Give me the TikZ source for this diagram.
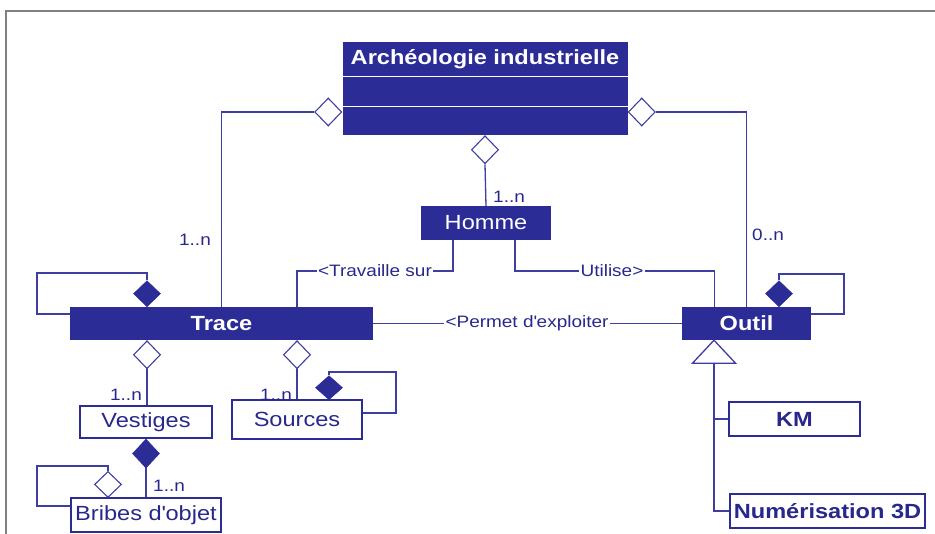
\documentclass[tikz,border=0pt]{standalone}
\usepackage{fontspec}
\setmainfont{Liberation Sans}[FakeStretch=1.15]
\usetikzlibrary{shapes.geometric}
\definecolor{umlblue}{RGB}{44,44,150}
\definecolor{linkblue}{RGB}{62,62,162}
\definecolor{textblue}{RGB}{40,40,140}
\definecolor{framegray}{RGB}{128,128,128}
\tikzset{
  classfill/.style={rectangle, fill=umlblue, text=white, inner sep=0pt,
    font=\fontsize{20.5}{24}\selectfont},
  classwhite/.style={rectangle, draw=umlblue, line width=1.5pt, fill=white,
    text=textblue, inner sep=0pt, font=\fontsize{20.5}{24}\selectfont},
  link/.style={draw=linkblue, line width=1.3pt},
  hollowdia/.style={diamond, draw=linkblue, line width=1.1pt, fill=white,
    minimum width=27pt, minimum height=28pt, inner sep=0pt},
  filldia/.style={diamond, draw=umlblue, fill=umlblue, line width=0.6pt,
    minimum width=27pt, minimum height=26pt, inner sep=0pt},
  rolelabel/.style={text=textblue, font=\fontsize{16.5}{19}\selectfont, inner sep=0pt},
  linklabel/.style={text=textblue, fill=white, font=\fontsize{16.5}{19}\selectfont,
    inner xsep=1.5pt, inner ysep=1pt},
}
\begin{document}
\begin{tikzpicture}[x=1pt, y=-1pt]
  \useasboundingbox (0,0) rectangle (935,534);
  \fill[white] (0,0) rectangle (935,534);
  % outer frame
  \draw[framegray, line width=2pt] (6,534) -- (6,11) -- (935,11);

  % main class with its three compartments
  \node[classfill, minimum width=285pt, minimum height=93pt] (arch) at (485,88.5) {};
  \draw[white, line width=0.9pt] (342.5,76) -- (627.5,76) (342.5,106) -- (627.5,106);
  \node[text=white, font=\bfseries\fontsize{20.5}{24}\selectfont] (archtitle) at (485,59) {Archéologie industrielle};

  % classes
  \node[classfill, minimum width=130pt, minimum height=34pt] (homme) at (486,223) {Homme};
  \node[classfill, minimum width=303pt, minimum height=33pt, font=\bfseries\fontsize{20.5}{24}\selectfont] (trace) at (221.5,323.5) {Trace};
  \node[classfill, minimum width=129pt, minimum height=33pt, font=\bfseries\fontsize{20.5}{24}\selectfont] (outil) at (746.5,323.5) {Outil};
  \node[classwhite, minimum width=132pt, minimum height=32pt] (vestiges) at (146,422) {Vestiges};
  \node[classwhite, minimum width=130pt, minimum height=39pt] (sources) at (297,419.5) {Sources};
  \node[classwhite, minimum width=150pt, minimum height=34pt] (bribes) at (146,515) {Bribes d\textquotesingle objet};
  \node[classwhite, minimum width=131pt, minimum height=34pt, font=\bfseries\fontsize{20.5}{24}\selectfont] (km) at (794.5,419) {KM};
  \node[classwhite, minimum width=195pt, minimum height=34pt, font=\bfseries\fontsize{20.5}{24}\selectfont] (num) at (827.5,511) {Numérisation 3D};

  % aggregations of the main class
  \node[hollowdia, anchor=east] (dleft) at (arch.west |- 0,112) {};
  \node[hollowdia, anchor=west] (dright) at (arch.east |- 0,112) {};
  \node[hollowdia, anchor=north] (dbottom) at (arch.south) {};
  \draw[link] (dleft.west) -| (trace.north);
  \draw[link] (dright.east) -| (outil.north);
  \draw[link] (dbottom.south) -- (homme.north);
  \node[rolelabel, anchor=west] (mhomme) at (493,197) {1..n};
  \node[rolelabel, anchor=east] (mtrace) at (211,240) {1..n};
  \node[rolelabel, anchor=west] (moutil) at (752,235) {0..n};

  % associations
  \coordinate (htl) at ([xshift=-33pt]homme.south);
  \coordinate (htr) at ([xshift=29pt]homme.south);
  \coordinate (ttop) at ([xshift=75.5pt]trace.north);
  \coordinate (otop) at ([xshift=-32pt]outil.north);
  \draw[link] (htl) -- (htl |- 0,271) -| (ttop);
  \node[linklabel] (trav) at (375,271) {<Travaille sur};
  \draw[link] (htr) -- (htr |- 0,271) -| (otop);
  \node[linklabel] (util) at (612,271) {Utilise>};
  \draw[link] (trace.east) -- (outil.west);
  \node[linklabel] (perm) at (527,323.5) {<Permet d\textquotesingle exploiter};

  % self compositions of Trace and Outil
  \node[filldia, anchor=south] (tself) at (147,307) {};
  \draw[link] (tself.north) -- (147,273) -- (37,273) -- (37,314) -- (trace.west |- 0,314);
  \node[filldia, anchor=south] (oself) at (779,307) {};
  \draw[link] (oself.north) -- (779,274) -- (844,274) -- (844,314) -- (outil.east |- 0,314);

  % generalisation of Outil
  \coordinate (apex) at ([xshift=-32.5pt]outil.south);
  \draw[link, fill=white, line join=miter] (apex) -- ++(21.5,23) -- ++(-43,0) -- cycle;
  \coordinate (tribase) at ([yshift=-23pt]apex);
  \draw[link] (tribase) |- (num.west);
  \draw[link] (tribase |- km.west) -- (km.west);

  % parts of Trace
  \node[hollowdia, anchor=north] (dvest) at (trace.south -| 147,0) {};
  \draw[link] (dvest.south) -- (dvest.south |- vestiges.north);
  \node[rolelabel, anchor=east] (mvest) at (142,395) {1..n};
  \node[hollowdia, anchor=north] (dsrc) at (trace.south -| 297,0) {};
  \draw[link] (dsrc.south) -- (sources.north);
  \node[rolelabel, anchor=east] (msrc) at (292,395) {1..n};

  % self composition of Sources
  \node[filldia, anchor=south, minimum height=24pt] (sself) at (329,400) {};
  \draw[link] (sself.north) -- (329,372) -- (396,372) -- (396,413) -- (sources.east |- 0,413);

  % Vestiges and its fragments
  \node[filldia, anchor=north, minimum height=29pt] (dbrib) at (vestiges.south) {};
  \draw[link] (dbrib.south) -- (bribes.north);
  \node[rolelabel, anchor=west] (mbrib) at (153,486) {1..n};
  \node[hollowdia, anchor=south, minimum height=26pt] (bself) at (108,498) {};
  \draw[link] (bself.north) -- (108,466) -- (37,466) -- (37,506) -- (bribes.west |- 0,506);
\end{tikzpicture}
\end{document}
